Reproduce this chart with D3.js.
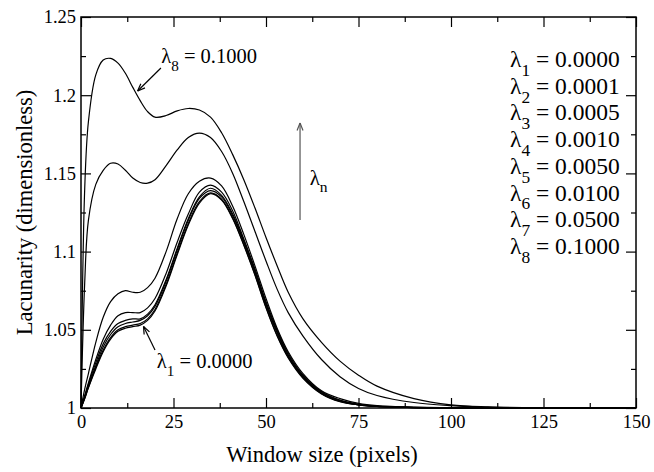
<!DOCTYPE html>
<html>
<head>
<meta charset="utf-8">
<script src="https://cdn.jsdelivr.net/npm/d3@7"></script>
<style>
  body { margin: 0; background: #fff; }
  text { font-family: "Liberation Serif", "Times New Roman", serif; fill: #000; }
</style>
</head>
<body>
<svg id="chart" width="654" height="472"></svg>
<script>
// Window size (pixels), shared by all series
const windowSize = [0, 1, 2, 4, 6, 8, 10, 12, 14, 16, 18, 20, 23, 26, 29, 32, 35, 38, 41, 44, 47, 50, 53, 56, 60, 65, 70, 75, 80, 90, 100, 110, 120, 135, 150];

// Lacunarity for each lambda
const lac1 = [1, 1.006, 1.013, 1.025, 1.036, 1.044, 1.049, 1.051, 1.052, 1.053, 1.056, 1.062, 1.078, 1.098, 1.117, 1.131, 1.137, 1.133, 1.121, 1.104, 1.085, 1.064, 1.046, 1.032, 1.019, 1.009, 1.004, 1.002, 1.001, 1.0003, 1.0001, 1, 1, 1, 1];
const lac2 = [1, 1.006, 1.013, 1.026, 1.037, 1.045, 1.050, 1.052, 1.053, 1.054, 1.057, 1.063, 1.079, 1.099, 1.118, 1.132, 1.1375, 1.1335, 1.1215, 1.1045, 1.0855, 1.0645, 1.0465, 1.0325, 1.0195, 1.0093, 1.0042, 1.002, 1.001, 1.0003, 1.0001, 1, 1, 1, 1];
const lac3 = [1, 1.007, 1.014, 1.027, 1.039, 1.047, 1.052, 1.054, 1.055, 1.056, 1.059, 1.065, 1.081, 1.101, 1.120, 1.134, 1.139, 1.135, 1.123, 1.106, 1.087, 1.066, 1.048, 1.033, 1.020, 1.0095, 1.0045, 1.002, 1.001, 1.0003, 1.0001, 1, 1, 1, 1];
const lac4 = [1, 1.007, 1.015, 1.029, 1.041, 1.049, 1.054, 1.056, 1.057, 1.057, 1.060, 1.066, 1.082, 1.102, 1.121, 1.135, 1.1405, 1.136, 1.124, 1.107, 1.088, 1.067, 1.049, 1.034, 1.0205, 1.010, 1.0047, 1.0022, 1.001, 1.0003, 1.0001, 1, 1, 1, 1];
const lac5 = [1, 1.008, 1.016, 1.031, 1.044, 1.053, 1.059, 1.061, 1.061, 1.061, 1.064, 1.070, 1.086, 1.106, 1.124, 1.138, 1.1425, 1.138, 1.126, 1.108, 1.089, 1.068, 1.050, 1.035, 1.021, 1.0105, 1.005, 1.0024, 1.0012, 1.0004, 1.0001, 1, 1, 1, 1];
const lac6 = [1, 1.012, 1.022, 1.042, 1.058, 1.068, 1.073, 1.075, 1.074, 1.074, 1.077, 1.083, 1.100, 1.121, 1.137, 1.145, 1.147, 1.142, 1.129, 1.111, 1.091, 1.070, 1.051, 1.036, 1.022, 1.011, 1.006, 1.003, 1.0015, 1.0005, 1.0002, 1, 1, 1, 1];
const lac7 = [1, 1.08, 1.12, 1.143, 1.152, 1.1565, 1.156, 1.152, 1.147, 1.1442, 1.1438, 1.146, 1.155, 1.165, 1.173, 1.1758, 1.173, 1.164, 1.150, 1.132, 1.113, 1.094, 1.076, 1.061, 1.046, 1.031, 1.020, 1.0125, 1.008, 1.0035, 1.0015, 1.0005, 1.0002, 1, 1];
const lac8 = [1, 1.14, 1.183, 1.213, 1.2225, 1.2235, 1.2205, 1.214, 1.205, 1.1965, 1.1895, 1.186, 1.187, 1.190, 1.1915, 1.1905, 1.186, 1.176, 1.162, 1.146, 1.128, 1.109, 1.091, 1.074, 1.057, 1.042, 1.030, 1.021, 1.014, 1.006, 1.002, 1.0007, 1.0002, 1, 1];
const seriesList = [lac1, lac2, lac3, lac4, lac5, lac6, lac7, lac8];

// Legend
const lambdaIndex = ['1', '2', '3', '4', '5', '6', '7', '8'];
const lambdaValue = ['0.0000', '0.0001', '0.0005', '0.0010', '0.0050', '0.0100', '0.0500', '0.1000'];

// Ticks
const xMajor = [0, 25, 50, 75, 100, 125, 150];
const xMinor = [12.5, 37.5, 62.5, 87.5, 112.5, 137.5];
const yMajor = [1, 1.05, 1.1, 1.15, 1.2, 1.25];
const yMinor = [1.025, 1.075, 1.125, 1.175, 1.225];

const W = 654, H = 472;
const margin = { left: 81, right: 18, top: 17, bottom: 64 };
const plotW = W - margin.left - margin.right;
const plotH = H - margin.top - margin.bottom;

const svg = d3.select('#chart');
const g = svg.append('g').attr('transform', `translate(${margin.left},${margin.top})`);

const x = d3.scaleLinear().domain([0, 150]).range([0, plotW]);
const y = d3.scaleLinear().domain([1, 1.25]).range([plotH, 0]);

// Curves
const line = d3.line()
  .x((d) => x(d[0]))
  .y((d) => y(d[1]))
  .curve(d3.curveCatmullRom.alpha(0.5));

const gC = g.append('g').attr('class', 'curves');
seriesList.forEach((s, i) => {
  gC.append('path')
    .datum(windowSize.map((w, k) => [w, s[k]]))
    .attr('d', line)
    .attr('fill', 'none')
    .attr('stroke', '#000')
    .attr('stroke-width', 1.2);
});

// Axes (ticks inward on all sides)
const styleAxis = (sel) => {
  sel.select('.domain').remove();
  sel.attr('font-family', null).attr('font-size', null);
  sel.selectAll('.tick line').attr('stroke', '#000').attr('stroke-width', 1.2);
  sel.selectAll('.tick text').style('font-size', '18.5px');
};

g.append('g').attr('transform', `translate(0,${plotH})`)
  .call(d3.axisBottom(x).tickValues(xMajor).tickSize(-10).tickPadding(7).tickFormat(d3.format('d')))
  .call(styleAxis);
g.append('g').attr('transform', `translate(0,${plotH})`)
  .call(d3.axisBottom(x).tickValues(xMinor).tickSize(-5).tickFormat(''))
  .call(styleAxis);
g.append('g')
  .call(d3.axisTop(x).tickValues(xMajor).tickSize(-10).tickFormat(''))
  .call(styleAxis);
g.append('g')
  .call(d3.axisTop(x).tickValues(xMinor).tickSize(-5).tickFormat(''))
  .call(styleAxis);

g.append('g')
  .call(d3.axisLeft(y).tickValues(yMajor).tickSize(-10).tickPadding(5).tickFormat((d) => d3.format('')(+d.toFixed(2))))
  .call(styleAxis);
g.append('g')
  .call(d3.axisLeft(y).tickValues(yMinor).tickSize(-5).tickFormat(''))
  .call(styleAxis);
g.append('g').attr('transform', `translate(${plotW},0)`)
  .call(d3.axisRight(y).tickValues(yMajor).tickSize(-10).tickFormat(''))
  .call(styleAxis);
g.append('g').attr('transform', `translate(${plotW},0)`)
  .call(d3.axisRight(y).tickValues(yMinor).tickSize(-5).tickFormat(''))
  .call(styleAxis);

// Frame
g.append('rect')
  .attr('width', plotW)
  .attr('height', plotH)
  .attr('fill', 'none')
  .attr('stroke', '#000')
  .attr('stroke-width', 1.5);

// Axis titles
svg.append('text')
  .attr('x', 322)
  .attr('y', 462)
  .attr('text-anchor', 'middle')
  .style('font-size', '22.5px')
  .text('Window size (pixels)');

svg.append('text')
  .attr('transform', `translate(32,${margin.top + plotH / 2}) rotate(-90)`)
  .attr('text-anchor', 'middle')
  .style('font-size', '22.5px')
  .text('Lacunarity (dimensionless)');

// lambda label helper: λ + subscript + rest
const lambdaText = (sel, sub, rest, size) => {
  sel.append('tspan').text('λ');
  sel.append('tspan')
    .attr('dy', size * 0.38)
    .style('font-size', `${size * 0.74}px`)
    .text(sub);
  if (rest) {
    sel.append('tspan')
      .attr('dy', -size * 0.38)
      .text(rest);
  }
};

// Legend
const gL = svg.append('g').attr('class', 'legend');
lambdaIndex.forEach((n, i) => {
  const t = gL.append('text')
    .attr('x', 510)
    .attr('y', 67 + i * 26.7)
    .style('font-size', '23.5px');
  lambdaText(t, n, ` = ${lambdaValue[i]}`, 23.5);
});

// Arrow helper (open V head)
const arrow = (x1, y1, x2, y2, color) => {
  const ga = g.append('g').attr('stroke', color).attr('stroke-width', 1.2).attr('fill', 'none');
  ga.append('line').attr('x1', x1).attr('y1', y1).attr('x2', x2).attr('y2', y2);
  const a = Math.atan2(y2 - y1, x2 - x1);
  const L = 8, spread = 0.38;
  [a + Math.PI - spread, a + Math.PI + spread].forEach((b) => {
    ga.append('line')
      .attr('x1', x2).attr('y1', y2)
      .attr('x2', x2 + L * Math.cos(b)).attr('y2', y2 + L * Math.sin(b));
  });
};

// Annotations
arrow(x(21.6), y(1.2174), x(15.3), y(1.2027), '#000');
const t8 = g.append('text').attr('x', x(21.7)).attr('y', y(1.2205)).style('font-size', '20.5px');
lambdaText(t8, '8', ' = 0.1000', 20.5);

arrow(x(20), y(1.0371), x(16.9), y(1.0521), '#000');
const t1 = g.append('text').attr('x', x(20.5)).attr('y', y(1.0256)).style('font-size', '20.5px');
lambdaText(t1, '1', ' = 0.0000', 20.5);

arrow(x(59.2), y(1.1202), x(59.2), y(1.1822), '#555');
const tn = g.append('text').attr('x', x(61.8)).attr('y', y(1.1429)).style('font-size', '21px');
lambdaText(tn, 'n', '', 21);
</script>
</body>
</html>
